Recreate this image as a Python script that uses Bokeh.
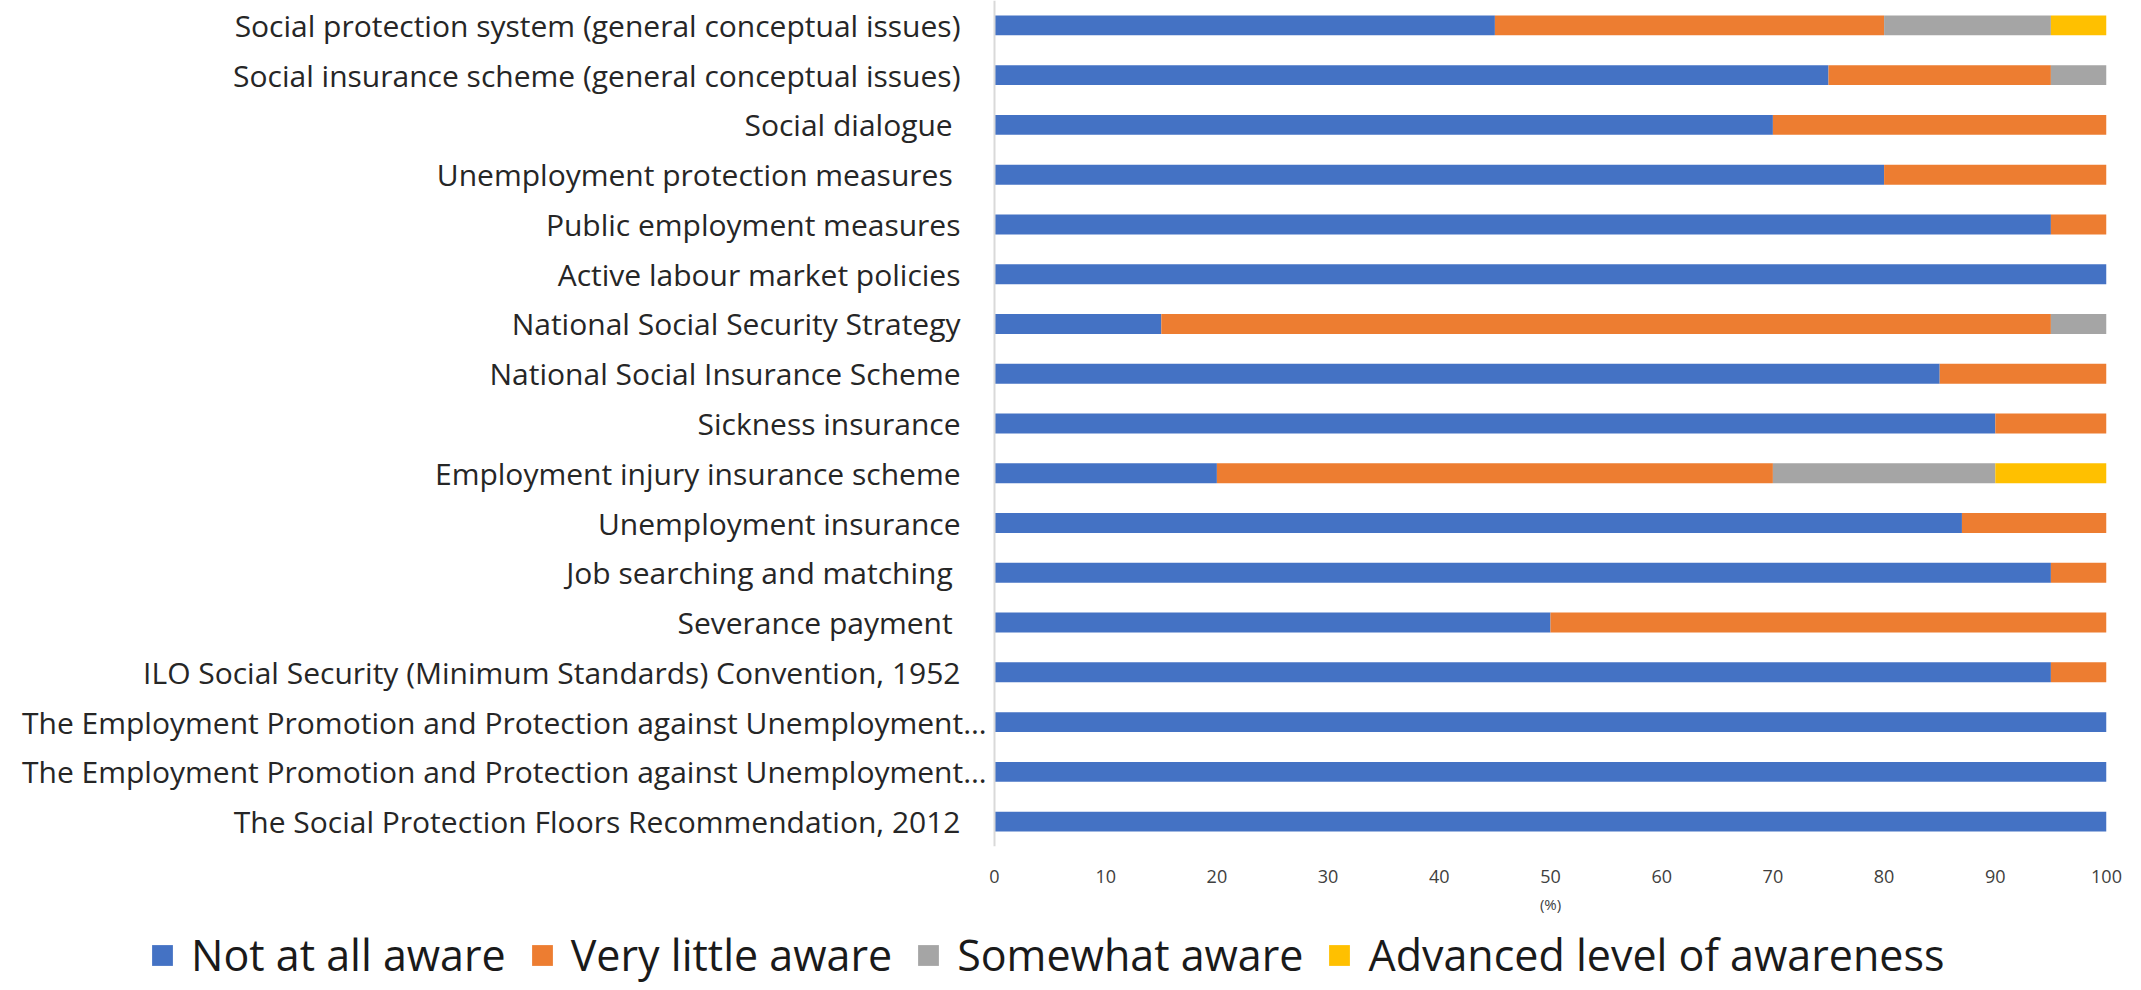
from bokeh.plotting import figure
from bokeh.layouts import column
from bokeh.models import ColumnDataSource, Legend, LegendItem, Label, FixedTicker, Range1d, Span
from bokeh.embed import file_html
from bokeh.resources import INLINE

categories = [
    "Social protection system (general conceptual issues)",
    "Social insurance scheme (general conceptual issues)",
    "Social dialogue ",
    "Unemployment protection measures ",
    "Public employment measures",
    "Active labour market policies",
    "National Social Security Strategy",
    "National Social Insurance Scheme",
    "Sickness insurance",
    "Employment injury insurance scheme",
    "Unemployment insurance",
    "Job searching and matching ",
    "Severance payment ",
    "ILO Social Security (Minimum Standards) Convention, 1952",
    "The Employment Promotion and Protection against Unemployment…",
    "The Employment Promotion and Protection against Unemployment…",
    "The Social Protection Floors Recommendation, 2012",
]
not_at_all = [45, 75, 70, 80, 95, 100, 15, 85, 90, 20, 87, 95, 50, 95, 100, 100, 100]
very_little = [35, 20, 30, 20, 5, 0, 80, 15, 10, 50, 13, 5, 50, 5, 0, 0, 0]
somewhat = [15, 5, 0, 0, 0, 0, 5, 0, 0, 20, 0, 0, 0, 0, 0, 0, 0]
advanced = [5, 0, 0, 0, 0, 0, 0, 0, 0, 10, 0, 0, 0, 0, 0, 0, 0]
series_names = ["Not at all aware", "Very little aware", "Somewhat aware", "Advanced level of awareness"]
series_keys = ["not_at_all", "very_little", "somewhat", "advanced"]
colors = ["#4472C4", "#ED7D31", "#A5A5A5", "#FFC000"]
x_ticks = [0, 10, 20, 30, 40, 50, 60, 70, 80, 90, 100]
x_label = "(%)"

n = len(categories)
ypos = [n - 1 - i for i in range(n)]
source = ColumnDataSource(dict(y=ypos, not_at_all=not_at_all, very_little=very_little,
                               somewhat=somewhat, advanced=advanced))

FONT = "Open Sans"
FIG_W = 2141
H1, H2 = 892, 98
AXIS_X, FRAME_R = 994, 2106          # pixel position of x=0 and x=100 in figure
FRAME_BOTTOM = 846
x_start = -AXIS_X / (FRAME_R - AXIS_X) * 100

p = figure(width=FIG_W, height=H1, output_backend="svg", toolbar_location=None,
           x_range=Range1d(x_start, 100), y_range=Range1d(-0.5, n - 0.5),
           min_border_left=0, min_border_right=FIG_W - FRAME_R, min_border_top=0,
           min_border_bottom=H1 - FRAME_BOTTOM)
p.outline_line_color = None
p.xgrid.visible = False
p.ygrid.visible = False
p.yaxis.visible = False

p.add_layout(Span(location=0, dimension="height", line_color="#D9D9D9", line_width=2))

renderers = p.hbar_stack(series_keys, y="y", height=0.4, fill_color=colors,
                         line_color=None, source=source)

xa = p.xaxis[0]
xa.ticker = FixedTicker(ticks=x_ticks)
xa.axis_line_color = None
xa.major_tick_line_color = None
xa.minor_tick_line_color = None
xa.major_label_text_font = FONT
xa.major_label_text_font_size = "18px"
xa.major_label_text_color = "#404040"
xa.major_label_standoff = 17

for cat, yv in zip(categories, ypos):
    off = -8 if cat.endswith("…") else -34
    p.add_layout(Label(x=0, y=yv, x_units="data", y_units="data", text=cat,
                       text_align="right", text_baseline="middle", x_offset=off,
                       text_font=FONT, text_font_size="30px", text_color="#262626"))

# strip below the chart: axis title and legend
p2 = figure(width=FIG_W, height=H2, output_backend="svg", toolbar_location=None,
            x_range=p.x_range, y_range=Range1d(0, H2),
            min_border_left=0, min_border_right=FIG_W - FRAME_R, min_border_top=0,
            min_border_bottom=0)
p2.outline_line_color = None
p2.xaxis.visible = False
p2.yaxis.visible = False
p2.xgrid.visible = False
p2.ygrid.visible = False

p2.add_layout(Label(x=50, y=H2 - 11, x_units="data", y_units="data", text=x_label,
                    text_align="center", text_baseline="middle",
                    text_font=FONT, text_font_size="15px", text_color="#404040"))

# legend swatches (placeholder renderers kept outside the visible range)
leg_renderers = [p2.hbar(y=[-1000], left=[0], right=[0], height=1, fill_color=c, line_color=None)
                 for c in colors]

legend = Legend(items=[LegendItem(label=nm, renderers=[r]) for nm, r in zip(series_names, leg_renderers)],
                location=(149, 6), orientation="horizontal",
                glyph_width=26, glyph_height=26, label_standoff=16, spacing=23,
                padding=0, margin=0, border_line_color=None, background_fill_alpha=0,
                label_text_font=FONT, label_text_font_size="43px", label_text_color="#1a1a1a")
p2.add_layout(legend)

open("out.html", "w").write(file_html(column(p, p2), INLINE))
